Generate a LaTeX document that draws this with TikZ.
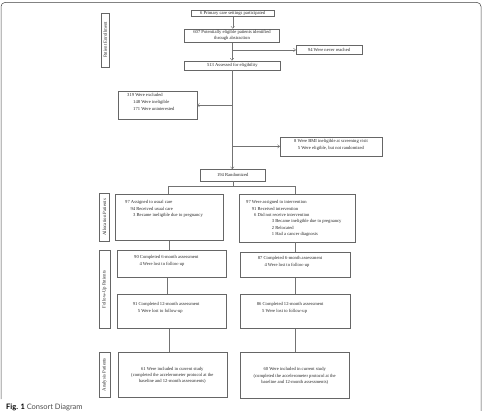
\documentclass[tikz,border=0pt]{standalone}
\usepackage{fontspec}
\setmainfont{Liberation Serif}
\newfontfamily\capfont{Lato}
\usetikzlibrary{arrows.meta}
\tikzset{
  frame/.style={draw=black!75, line width=0.5pt, rounded corners=4pt},
  box/.style={draw=black!60, line width=0.4pt, inner sep=0pt, anchor=north west},
  txt/.style={inner sep=0pt, font=\fontsize{4.6}{5.5}\selectfont, text=black!85},
  side/.style={inner sep=0pt, rotate=90, font=\fontsize{4.8}{5.5}\selectfont, text=black!85},
  conn/.style={draw=black!55, line width=0.4pt},
  arr/.style={conn, -{Straight Barb[length=2.2pt,width=3.5pt]}},
}
\newcommand\mybox[5]{\node[box,minimum width={#4pt-#2pt},minimum height={#5pt-#3pt}] (#1) at (#2,#3) {};}
\begin{document}
\begin{tikzpicture}[x=1pt,y=-1pt]
\useasboundingbox (0,0) rectangle (484,411);
\draw[frame] (1,399) -- (1,2.5) -- (481,2.5) -- (481,411);

% side labels
\mybox{sEn}{100.7}{12.7}{109.3}{66.7}
\node[side] (tEn) at (sEn.center) {Patient Enrollment};
\mybox{sAl}{99.3}{193.3}{109.3}{241}
\node[side] (tAl) at (sAl.center) {Allocation Patients};
\mybox{sFu}{99}{250}{109.7}{328.3}
\node[side] (tFu) at (sFu.center) {Follow-Up Patients};
\mybox{sAn}{99}{352.3}{109.7}{397}
\node[side] (tAn) at (sAn.center) {Analysis Patients};

% enrollment boxes
\mybox{b6}{190.7}{10}{274.3}{16.5}
\node[txt] (t6) at (b6.center) {6 Primary care settings participated};
\mybox{b607}{184.3}{28.7}{279.3}{42.3}
\node[txt] (t607a) at (232,32.7) {607 Potentially eligible patients identified};
\node[txt] (t607b) at (232,38.7) {through abstraction};
\mybox{b94}{296}{45.3}{361.7}{54.3}
\node[txt] (t94) at (b94.center) {94 Were never reached};
\mybox{b513}{184.3}{60.7}{280}{69.7}
\node[txt] (t513) at (b513.center) {513 Assessed for eligibility};
\mybox{b319}{117.7}{91}{196.7}{119}
\node[txt,anchor=west] (t319a) at (127,95) {319 Were excluded};
\node[txt,anchor=west] (t319b) at (133,102.7) {148 Were ineligible};
\node[txt,anchor=west] (t319c) at (133,109) {171 Were uninterested};
\mybox{bbmi}{280}{136.7}{381.7}{155.7}
\node[txt] (tbmia) at (331,141) {8 Were BMI ineligible at screening visit};
\node[txt] (tbmib) at (331,148) {5 Were eligible, but not randomized};
\mybox{b194}{200}{169.3}{265}{180.7}
\node[txt] (t194) at (b194.center) {194 Randomized};

% allocation
\mybox{alL}{115.3}{194.3}{223.3}{240.3}
\node[txt,anchor=west] (talLa) at (125,202.3) {97 Assigned to usual care};
\node[txt,anchor=west] (talLb) at (130.3,208.7) {94 Received usual care};
\node[txt,anchor=west] (talLc) at (133,215) {3 Became ineligible due to pregnancy};
\mybox{alR}{239.3}{194.3}{354.7}{241.7}
\node[txt,anchor=west] (talRa) at (246,202) {97 Were assigned to intervention};
\node[txt,anchor=west] (talRb) at (251.7,208.7) {91 Received intervention};
\node[txt,anchor=west] (talRc) at (254,215) {6 Did not receive intervention};
\node[txt,anchor=west] (talRd) at (271.7,221.3) {3 Became ineligible due to pregnancy};
\node[txt,anchor=west] (talRe) at (271.7,227.7) {2 Relocated};
\node[txt,anchor=west] (talRf) at (271.7,234) {1 Had a cancer diagnosis};

% follow-up
\mybox{sixL}{117.3}{250}{225.7}{277.3}
\node[txt,anchor=west] (tsixLa) at (134,257.3) {90 Completed 6-month assessment};
\node[txt,anchor=west] (tsixLb) at (139.3,264.7) {4 Were lost to follow-up};
\mybox{sixR}{239.7}{252}{350.3}{277.3}
\node[txt,anchor=west] (tsixRa) at (257.7,258.3) {87 Completed 6-month assessment};
\node[txt,anchor=west] (tsixRb) at (264.3,265.3) {4 Were lost to follow-up};
\mybox{twL}{117.3}{294.3}{226.3}{328.3}
\node[txt,anchor=west] (ttwLa) at (132.7,304.7) {91 Completed 12-month assessment};
\node[txt,anchor=west] (ttwLb) at (137.7,311.7) {5 Were lost to follow-up};
\mybox{twR}{239.7}{294.3}{350.3}{328.3}
\node[txt,anchor=west] (ttwRa) at (256.7,304.7) {86 Completed 12-month assessment};
\node[txt,anchor=west] (ttwRb) at (262,311.7) {5 Were lost to follow-up};

% analysis
\mybox{anL}{118}{351.7}{226.7}{397.3}
\node[txt] (tanLa) at (172.3,369) {61 Were included in current study};
\node[txt] (tanLb) at (172.3,375.3) {(completed the accelerometer protocol at the};
\node[txt] (tanLc) at (172.3,381.7) {baseline and 12-month assessments)};
\mybox{anR}{240.3}{352.3}{349}{398}
\node[txt] (tanRa) at (294.7,369.3) {60 Were included in current study};
\node[txt] (tanRb) at (294.7,376) {(completed the accelerometer protocol at the};
\node[txt] (tanRc) at (294.7,382.3) {baseline and 12-month assessments)};

% connectors
\draw[arr] (b6.south) -- (b6.south |- b607.north);
\draw[arr] (b607.south) -- (b607.south |- b513.north);
\draw[arr] (b607.south |- b94.west) -- (b94.west);
\draw[arr] (b513.south) -- (b513.south |- b194.north);
\draw[arr] (b513.south |- b319.east) -- (b319.east);
\draw[arr] (b513.south |- bbmi.west) -- (bbmi.west);

\coordinate (spL) at (167.8,186.7);
\coordinate (spR) at (295.3,186.7);
\draw[conn] (b194.south) -- (b194.south |- spL);
\draw[conn] (spL |- alL.north) -- (spL) -- (spR) -- (spR |- alR.north);
\coordinate (vL1) at (169.3,0);
\coordinate (vR1) at (295.2,0);
\coordinate (vL2) at (167.3,0);
\draw[conn] (vL1 |- alL.south) -- (vL1 |- sixL.north);
\draw[conn] (vR1 |- alR.south) -- (vR1 |- sixR.north);
\draw[conn] (vL2 |- sixL.south) -- (vL2 |- twL.north);
\draw[conn] (vR1 |- sixR.south) -- (vR1 |- twR.north);
\draw[conn] (vL1 |- twL.south) -- (vL1 |- anL.north);
\draw[conn] (vR1 |- twR.south) -- (vR1 |- anR.north);

% caption
\node[inner sep=0pt, anchor=west, font=\capfont\fontsize{7.5}{9}\selectfont] (cap) at (6,407)
  {\textbf{Fig. 1} \textcolor{black!70}{Consort Diagram}};
\end{tikzpicture}
\end{document}
